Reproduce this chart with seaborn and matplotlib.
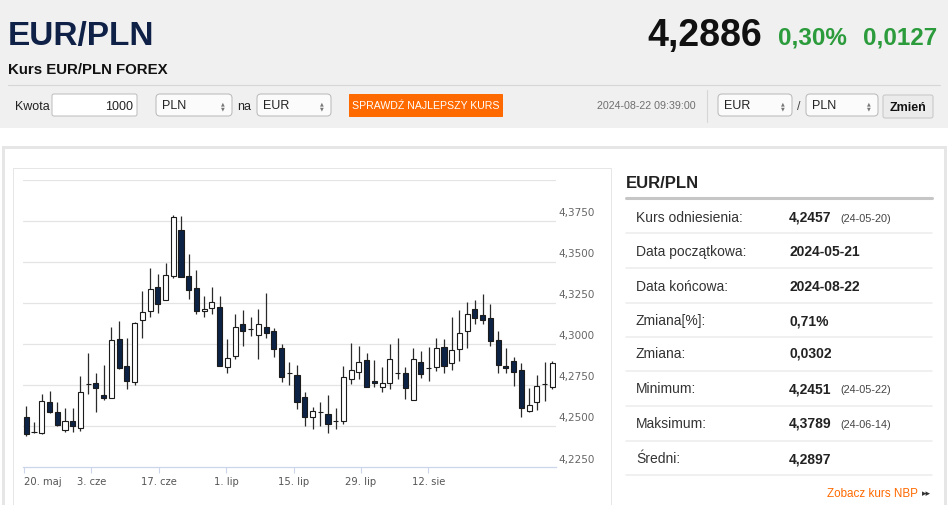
import matplotlib
matplotlib.use("Agg")
import matplotlib.pyplot as plt
from matplotlib.patches import Rectangle, FancyBboxPatch
from matplotlib.transforms import IdentityTransform
import seaborn as sns
import pandas as pd

# ---------------- data ----------------
opens = [4.2553, 4.2466, 4.2458, 4.2644, 4.2585, 4.2478, 4.2532, 4.2488, 4.2753, 4.2763,
         4.2686, 4.2672, 4.3028, 4.2864, 4.2767, 4.3147, 4.3198, 4.3348, 4.3267, 4.3416,
         4.3696, 4.3412, 4.3342, 4.3202, 4.3218, 4.3224, 4.2862, 4.2927, 4.3119, 4.3093,
         4.3052, 4.3105, 4.3081, 4.2975, 4.2820, 4.2810, 4.2674, 4.2553, 4.2583, 4.2573,
         4.2530, 4.2530, 4.2783, 4.2830, 4.2899, 4.2775, 4.2739, 4.2763, 4.2822, 4.2822,
         4.2660, 4.2888, 4.2854, 4.2862, 4.2983, 4.2886, 4.2967, 4.3077, 4.3210, 4.3178,
         4.3157, 4.3026, 4.2868, 4.2894, 4.2840, 4.2589, 4.2644, 4.2757, 4.2739]
highs = [4.2621, 4.2524, 4.2692, 4.2710, 4.2644, 4.2611, 4.2611, 4.2805, 4.2943, 4.2824,
         4.2870, 4.3101, 4.3137, 4.3036, 4.3133, 4.3325, 4.3463, 4.3427, 4.3495, 4.3785,
         4.3781, 4.3548, 4.3451, 4.3291, 4.3344, 4.3291, 4.3030, 4.3180, 4.3208, 4.3166,
         4.3212, 4.3311, 4.3099, 4.2998, 4.2890, 4.2874, 4.2704, 4.2617, 4.2646, 4.2688,
         4.2607, 4.2864, 4.3008, 4.2990, 4.2943, 4.2899, 4.2858, 4.3002, 4.3036, 4.2862,
         4.2975, 4.2959, 4.2983, 4.3036, 4.3030, 4.3166, 4.3208, 4.3253, 4.3265, 4.3305,
         4.3242, 4.3077, 4.2975, 4.2919, 4.2886, 4.2731, 4.2812, 4.2888, 4.2894]
lows = [4.2441, 4.2455, 4.2453, 4.2577, 4.2500, 4.2466, 4.2466, 4.2470, 4.2696, 4.2585,
        4.2660, 4.2668, 4.2848, 4.2723, 4.2747, 4.3036, 4.3164, 4.3188, 4.3265, 4.3402,
        4.3406, 4.3275, 4.3182, 4.3164, 4.3182, 4.2868, 4.2820, 4.2907, 4.2986, 4.3046,
        4.2909, 4.3036, 4.2917, 4.2767, 4.2749, 4.2603, 4.2498, 4.2480, 4.2502, 4.2460,
        4.2480, 4.2512, 4.2755, 4.2785, 4.2739, 4.2735, 4.2708, 4.2723, 4.2787, 4.2666,
        4.2656, 4.2791, 4.2775, 4.2834, 4.2820, 4.2842, 4.2894, 4.2977, 4.3121, 4.3119,
        4.2984, 4.2820, 4.2820, 4.2745, 4.2555, 4.2585, 4.2599, 4.2650, 4.2723]
closes = [4.2453, 4.2466, 4.2650, 4.2585, 4.2504, 4.2532, 4.2498, 4.2704, 4.2753, 4.2733,
          4.2668, 4.3022, 4.2850, 4.2775, 4.3129, 4.3194, 4.3335, 4.3240, 4.3418, 4.3770,
          4.3406, 4.3329, 4.3202, 4.3214, 4.3253, 4.2868, 4.2915, 4.3105, 4.3081, 4.3093,
          4.3119, 4.3068, 4.2969, 4.2797, 4.2820, 4.2644, 4.2553, 4.2591, 4.2583, 4.2510,
          4.2530, 4.2799, 4.2842, 4.2888, 4.2739, 4.2759, 4.2763, 4.2909, 4.2822, 4.2733,
          4.2905, 4.2816, 4.2854, 4.2975, 4.2868, 4.2965, 4.3064, 4.3184, 4.3157, 4.3145,
          4.3020, 4.2872, 4.2854, 4.2830, 4.2609, 4.2625, 4.2741, 4.2757, 4.2886]
x_tick_labels = ["20. maj", "3. cze", "17. cze", "1. lip", "15. lip", "29. lip", "12. sie"]
y_levels = [4.225, 4.25, 4.275, 4.30, 4.325, 4.35, 4.375, 4.40]
y_label_levels = [4.225, 4.25, 4.275, 4.30, 4.325, 4.35, 4.375]

stat_labels = ["Kurs odniesienia:", "Data początkowa:", "Data końcowa:", "Zmiana[%]:",
               "Zmiana:", "Minimum:", "Maksimum:", "Średni:"]
stat_values = ["4,2457", "2024-05-21", "2024-08-22", "0,71%", "0,0302", "4,2451", "4,3789", "4,2897"]
stat_dates = ["(24-05-20)", "", "", "", "", "(24-05-22)", "(24-06-14)", ""]

df = pd.DataFrame({"open": opens, "high": highs, "low": lows, "close": closes})
df["idx"] = range(len(df))

# ---------------- style ----------------
sns.set_theme(style="white")
plt.rcParams["font.family"] = ["Liberation Sans", "DejaVu Sans"]
NARROW = ["Liberation Sans", "DejaVu Sans"]

W, H = 948, 505
fig = plt.figure(figsize=(W / 100, H / 100), dpi=100)
fig.patch.set_facecolor("white")
ID = IdentityTransform()


def box(x0, y0, x1, y1, fc="none", ec="none", lw=1.0, r=0, z=-1):
    if r > 0:
        p = FancyBboxPatch((x0, H - y1), x1 - x0, y1 - y0,
                           boxstyle=f"round,pad=0,rounding_size={r}",
                           transform=ID, fc=fc, ec=ec, lw=lw * 0.72, zorder=z)
    else:
        p = Rectangle((x0, H - y1), x1 - x0, y1 - y0, transform=ID,
                      fc=fc, ec=ec, lw=lw * 0.72, zorder=z)
    fig.add_artist(p)


def txt(x, y, s, size, color="#222222", weight="normal", ha="left", va="baseline", family=None):
    fig.text(x / W, 1 - y / H, s, fontsize=size, color=color, fontweight=weight,
             ha=ha, va=va, family=family if family else plt.rcParams["font.family"], zorder=5)


def select(x0, x1, label):
    box(x0, 94, x1, 116, fc="#fbfbfb", ec="#b9b9b9", lw=1, r=4)
    txt(x0 + 6, 109, label, 9, family=NARROW)
    txt(x1 - 9, 104, "▲", 3.5, color="#777777", ha="center", va="center", family=["DejaVu Sans"])
    txt(x1 - 9, 109, "▼", 3.5, color="#777777", ha="center", va="center", family=["DejaVu Sans"])


# ---------------- page header ----------------
box(0, 0, W, 128, fc="#f0f0f0")
txt(8, 45, "EUR/PLN", 24, color="#0f2147", weight="bold", family=NARROW)
txt(762, 46, "4,2886", 27, color="#111111", weight="bold", ha="right", family=NARROW)
txt(778, 45, "0,30%", 17.5, color="#2b9b3c", weight="bold", family=NARROW)
txt(937, 45, "0,0127", 17.5, color="#2b9b3c", weight="bold", ha="right", family=NARROW)
txt(8, 74, "Kurs EUR/PLN FOREX", 10.8, color="#111111", weight="bold", family=NARROW)
fig.add_artist(plt.Line2D([8, 940], [H - 85, H - 85], transform=ID, color="#d6d6d6", lw=0.8))

txt(15, 110, "Kwota", 9, family=NARROW)
box(52, 94, 137, 116, fc="white", ec="#bdbdbd", lw=1, r=2)
txt(133, 110, "1000", 9, ha="right", family=NARROW)
select(156, 232, "PLN")
txt(237, 110, "na", 9, family=NARROW)
select(257, 331, "EUR")
box(349, 94, 502, 116, fc="#ff6a00", ec="#ff6a00", lw=1)
txt(425.5, 109, "SPRAWDŹ NAJLEPSZY KURS", 7.6, color="white", ha="center", family=NARROW)
txt(696, 109, "2024-08-22 09:39:00", 7.7, color="#6f6f6f", ha="right", family=NARROW)
fig.add_artist(plt.Line2D([707, 707], [H - 90, H - 122], transform=ID, color="#d6d6d6", lw=0.8))
select(718, 792, "EUR")
txt(797, 110, "/", 9, color="#444444", family=NARROW)
select(806, 878, "PLN")
box(883, 95, 933, 118, fc="#ebebeb", ec="#c6c6c6", lw=1, r=2)
txt(908, 111, "Zmień", 9, color="#111111", weight="bold", ha="center", family=NARROW)

# ---------------- containers ----------------
box(3, 147, 945, 520, fc="white", ec="#e6e6e6", lw=3, z=-2)
box(13, 168, 611, 520, fc="white", ec="#e6e6e6", lw=1, z=-1)

# ---------------- right stats panel ----------------
txt(626, 188, "EUR/PLN", 12, color="#222222", weight="bold")
fig.add_artist(plt.Line2D([626, 932], [H - 197.5, H - 197.5], transform=ID, color="#c6c6c6", lw=2.2))
row_base = [222, 256, 291, 325, 358, 393, 428, 463]
row_sep = [233, 268, 303, 337, 371, 406, 441, 475]
for i, (lab, val, dat) in enumerate(zip(stat_labels, stat_values, stat_dates)):
    yb = row_base[i]
    txt(636, yb, lab, 10, color="#333333")
    txt(789, yb, val, 10, color="#222222", weight="bold")
    if dat:
        txt(840, yb, dat, 7.8, color="#444444")
    fig.add_artist(plt.Line2D([626, 932], [H - row_sep[i], H - row_sep[i]], transform=ID,
                              color="#ececec", lw=1.1))
txt(918, 497, "Zobacz kurs NBP", 8.4, color="#ff6a00", ha="right")
txt(922, 496, "▸▸", 6.5, color="#333333", family=["DejaVu Sans"])

# ---------------- candlestick chart ----------------
ax = fig.add_axes([23 / W, 1 - 467 / H, (556 - 23) / W, (467 - 179.7) / H])
ax.patch.set_alpha(0)
ax.set_xlim(-0.427, 68.48)
ax.set_ylim(4.225, 4.40)
for lev in y_levels[1:]:
    ax.axhline(lev, color="#e4e4e4", lw=0.9, zorder=1)

navy = "#0d2346"
edge = "#1b1b1b"
ax.vlines(df["idx"], df["low"], df["high"], color="#2a2a2a", lw=0.9, zorder=2)
up = df[df["close"] >= df["open"]]
down = df[df["close"] < df["open"]]
ax.bar(up["idx"], up["close"] - up["open"], bottom=up["open"], width=0.66,
       color="white", edgecolor=edge, linewidth=0.8, zorder=3)
ax.bar(down["idx"], down["open"] - down["close"], bottom=down["close"], width=0.66,
       color=navy, edgecolor=edge, linewidth=0.8, zorder=3)

sns.despine(ax=ax, left=True, right=True, top=True, bottom=False)
ax.spines["bottom"].set_color("#ccd6eb")
ax.spines["bottom"].set_linewidth(0.9)
ax.set_yticks([])
tick_pos = [(-2.3 + 67.4 * k) / 7.735 for k in range(len(x_tick_labels))]
ax.set_xticks(tick_pos)
ax.set_xticklabels(x_tick_labels, fontsize=7.2, color="#555555", family=["DejaVu Sans"])
ax.tick_params(axis="x", direction="out", length=4, width=0.8, color="#ccd6eb", pad=3, bottom=True)
lbls = ax.get_xticklabels()
lbls[0].set_horizontalalignment("left")
ax.grid(False)

px_per_val = (467 - 179.7) / (4.40 - 4.225)
for lev in y_label_levels:
    ax.text(1.0 + 2 / (556 - 23), lev + 2.5 / px_per_val, f"{lev:.4f}".replace(".", ","),
            transform=ax.get_yaxis_transform(), fontsize=7.5, color="#666666",
            ha="left", va="bottom", family=["DejaVu Sans"])

fig.savefig("out.png", dpi=100)
